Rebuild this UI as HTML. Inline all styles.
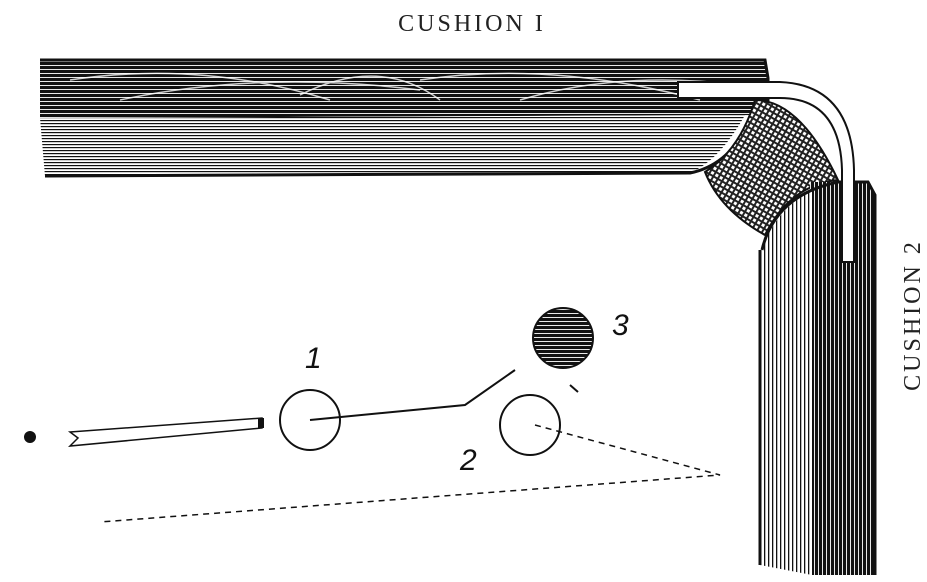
<!DOCTYPE html>
<html><head><style>body{margin:0;background:#fff}svg{display:block}</style></head><body>
<svg width="927" height="582" viewBox="0 0 927 582" xmlns="http://www.w3.org/2000/svg">
<defs>
<pattern id="hl" width="6" height="3" patternUnits="userSpaceOnUse"><rect width="6" height="3" fill="#fff"/><rect width="6" height="1.2" fill="#111"/></pattern>
<pattern id="dk" width="8" height="4" patternUnits="userSpaceOnUse"><rect width="8" height="4" fill="#111"/><rect y="1" width="8" height="0.9" fill="#fff"/></pattern>
<pattern id="vl" width="4" height="6" patternUnits="userSpaceOnUse"><rect width="4" height="6" fill="#fff"/><rect width="1.3" height="6" fill="#111"/></pattern>
<pattern id="vd" width="4" height="6" patternUnits="userSpaceOnUse"><rect width="4" height="6" fill="#111"/><rect x="2" width="0.9" height="6" fill="#fff"/></pattern>
<pattern id="xh" width="5" height="5" patternUnits="userSpaceOnUse" patternTransform="rotate(30)"><rect width="5" height="5" fill="#fff"/><rect width="5" height="2" fill="#222"/><rect width="2" height="5" fill="#222"/></pattern>
</defs>
<text x="472" y="31" font-family="Liberation Serif,serif" font-size="24" letter-spacing="3" text-anchor="middle" fill="#222">CUSHION I</text>
<text transform="translate(920,315) rotate(-90)" font-family="Liberation Serif,serif" font-size="24" letter-spacing="3" text-anchor="middle" fill="#222">CUSHION 2</text>
<path d="M40 60 L765 60 L768 78 L768 115 L40 118 Z" fill="url(#dk)"/>
<path d="M40 118 L745 115 Q720 160 690 173 L45 176 Z" fill="url(#hl)"/>
<path d="M40 60 L765 60 L768 78 L768 115 M45 176 L690 173 Q730 165 750 120" stroke="#111" stroke-width="3" fill="none"/>
<g stroke="#fff" stroke-width="1.5" fill="none" opacity="0.8">
<path d="M70 80 Q200 60 330 100"/><path d="M120 100 Q260 70 420 90"/><path d="M300 95 Q380 55 440 100"/><path d="M420 80 Q550 60 700 100"/><path d="M520 100 Q620 70 740 85"/></g>
<path d="M755 100 Q800 100 838 180 Q790 185 765 235 Q720 210 705 172 Q740 150 755 100 Z" fill="url(#xh)" stroke="#111" stroke-width="2"/>
<path d="M810 182 L868 182 L875 195 L875 575 L812 575 Z" fill="url(#vd)"/>
<path d="M838 182 Q780 195 762 250 L760 565 L812 575 L812 190 Z" fill="url(#vl)"/>
<path d="M762 250 Q775 195 838 182 L868 182 L875 195 L875 575 M760 250 L760 565" stroke="#111" stroke-width="3" fill="none"/>
<path d="M678 82 L780 82 Q852 85 854 170 L854 262 L842 262 L842 170 Q840 98 780 98 L678 98 Z" fill="#fff" stroke="#111" stroke-width="2"/>
<circle cx="310" cy="420" r="30" fill="#fff" stroke="#111" stroke-width="2"/>
<circle cx="530" cy="425" r="30" fill="#fff" stroke="#111" stroke-width="2"/>
<circle cx="563" cy="338" r="30" fill="url(#dk)" stroke="#111" stroke-width="2"/>
<circle cx="30" cy="437" r="6" fill="#111"/>
<path d="M70 432 L262 418 L262 428 L70 446 L78 438 Z" fill="#fff" stroke="#111" stroke-width="1.5"/>
<rect x="258" y="418" width="6" height="10" fill="#111"/>
<path d="M310 420 L465 405 L515 370" stroke="#111" stroke-width="2" fill="none"/>
<path d="M535 425 L720 475 L100 522" stroke="#111" stroke-width="1.5" stroke-dasharray="6 5" fill="none"/>
<path d="M570 385 L578 392" stroke="#111" stroke-width="2"/>
<g font-family="Liberation Sans,sans-serif" font-style="italic" font-size="30" fill="#111">
<text x="305" y="368">1</text><text x="460" y="470">2</text><text x="612" y="335">3</text></g>
</svg>
</body></html>
